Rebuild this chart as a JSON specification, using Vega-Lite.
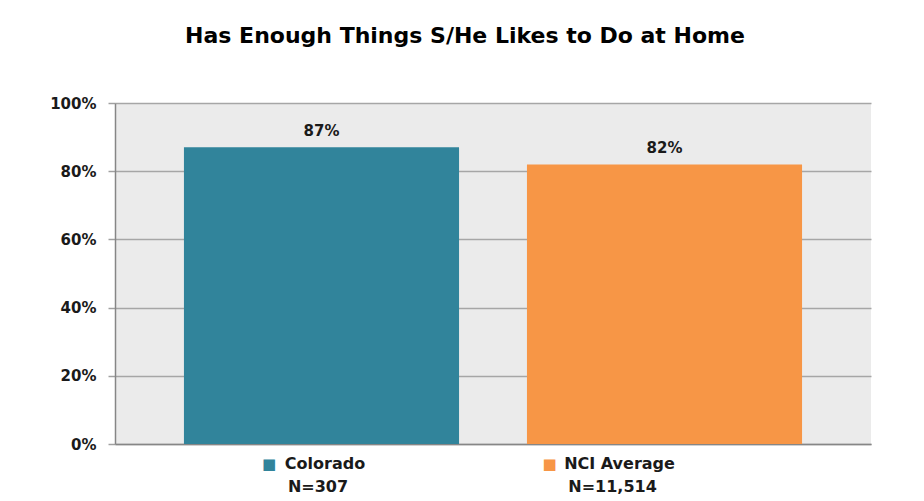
{
  "$schema": "https://vega.github.io/schema/vega-lite/v6.json",
  "width": 756,
  "height": 341,
  "autosize": {"type": "none"},
  "padding": {"left": 115, "top": 103, "right": 53, "bottom": 57},
  "background": "white",
  "title": {
    "text": "Has Enough Things S/He Likes to Do at Home",
    "font": "DejaVu Sans",
    "fontSize": 22,
    "fontWeight": "bold",
    "color": "#000000",
    "anchor": "middle",
    "frame": "group",
    "dx": -28,
    "offset": 48
  },
  "data": {
    "values": [
      {"group": "Colorado", "pct": 0.87, "n": "N=307"},
      {"group": "NCI Average", "pct": 0.82, "n": "N=11,514"}
    ]
  },
  "encoding": {
    "x": {
      "field": "group",
      "type": "nominal",
      "sort": null,
      "scale": {"paddingInner": 0.198, "paddingOuter": 0.201},
      "axis": {"title": null, "labels": false, "ticks": false, "grid": false, "domainColor": "#868686", "domainWidth": 1.5}
    }
  },
  "layer": [
    {
      "mark": {"type": "bar"},
      "encoding": {
        "y": {
          "field": "pct",
          "type": "quantitative",
          "scale": {"domain": [0, 1]},
          "axis": {
            "title": null,
            "values": [0, 0.2, 0.4, 0.6, 0.8, 1],
            "format": ".0%",
            "labelFont": "DejaVu Sans",
            "labelFontWeight": "bold",
            "labelFontSize": 15,
            "labelColor": "#1a1a1a",
            "labelPadding": 12,
            "tickSize": 7,
            "tickColor": "#a0a0a0",
            "tickWidth": 1.5,
            "grid": true,
            "gridColor": "#a6a6a6",
            "gridWidth": 1.5,
            "domainColor": "#868686",
            "domainWidth": 1.5
          }
        },
        "color": {
          "field": "group",
          "type": "nominal",
          "scale": {"domain": ["Colorado", "NCI Average"], "range": ["#31849b", "#f79646"]},
          "legend": null
        }
      }
    },
    {
      "mark": {"type": "text", "baseline": "alphabetic", "dy": -11, "font": "DejaVu Sans", "fontWeight": "bold", "fontSize": 15, "color": "#1a1a1a"},
      "encoding": {
        "y": {"field": "pct", "type": "quantitative"},
        "text": {"field": "pct", "type": "quantitative", "format": ".0%"}
      }
    },
    {
      "transform": [{"filter": "datum.group == 'Colorado'"}],
      "layer": [
        {
          "mark": {"type": "text", "text": "■", "baseline": "alphabetic", "dx": -52.5, "dy": 25, "font": "DejaVu Sans", "fontSize": 15},
          "encoding": {
            "y": {"datum": 0, "type": "quantitative"},
            "color": {"field": "group", "type": "nominal", "legend": null}
          }
        },
        {
          "mark": {"type": "text", "baseline": "alphabetic", "dx": 3.5, "dy": 25, "font": "DejaVu Sans", "fontWeight": "bold", "fontSize": 16, "color": "#1a1a1a"},
          "encoding": {"y": {"datum": 0, "type": "quantitative"}, "text": {"field": "group"}}
        },
        {
          "mark": {"type": "text", "baseline": "alphabetic", "dx": -3.5, "dy": 48, "font": "DejaVu Sans", "fontWeight": "bold", "fontSize": 16, "color": "#1a1a1a"},
          "encoding": {"y": {"datum": 0, "type": "quantitative"}, "text": {"field": "n"}}
        }
      ]
    },
    {
      "transform": [{"filter": "datum.group == 'NCI Average'"}],
      "layer": [
        {
          "mark": {"type": "text", "text": "■", "baseline": "alphabetic", "dx": -115, "dy": 25, "font": "DejaVu Sans", "fontSize": 15},
          "encoding": {
            "y": {"datum": 0, "type": "quantitative"},
            "color": {"field": "group", "type": "nominal", "legend": null}
          }
        },
        {
          "mark": {"type": "text", "baseline": "alphabetic", "dx": -45, "dy": 25, "font": "DejaVu Sans", "fontWeight": "bold", "fontSize": 16, "color": "#1a1a1a"},
          "encoding": {"y": {"datum": 0, "type": "quantitative"}, "text": {"field": "group"}}
        },
        {
          "mark": {"type": "text", "baseline": "alphabetic", "dx": -52, "dy": 48, "font": "DejaVu Sans", "fontWeight": "bold", "fontSize": 16, "color": "#1a1a1a"},
          "encoding": {"y": {"datum": 0, "type": "quantitative"}, "text": {"field": "n"}}
        }
      ]
    }
  ],
  "config": {
    "view": {"fill": "#ebebeb", "stroke": null}
  }
}
